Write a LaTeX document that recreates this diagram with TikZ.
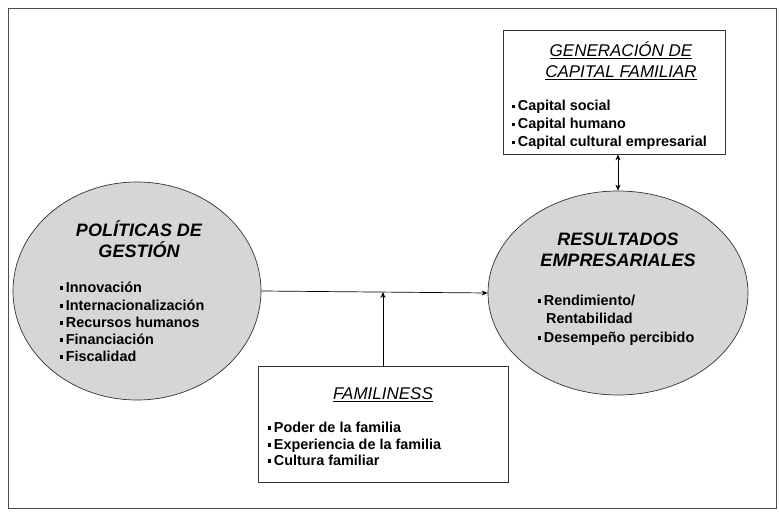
\documentclass[tikz,border=0pt]{standalone}
\usepackage{fontspec}
\setmainfont{Liberation Sans}
\usetikzlibrary{shapes.geometric,arrows.meta}
\newcommand{\bul}{\raisebox{2.5pt}{\rule{3.2pt}{3.2pt}}\hspace{2.5pt}}
\tikzset{
  oval/.style={ellipse,draw=black!80,line width=0.7pt,fill=black!16},
  box/.style={rectangle,draw=black!80,line width=0.7pt,fill=white},
  ttl/.style={font=\fontsize{18}{21}\selectfont\bfseries\itshape,inner sep=0pt,text height=13pt,text depth=0pt,anchor=center},
  bttl/.style={font=\fontsize{17}{20}\selectfont\itshape,inner sep=0pt,text height=12.5pt,text depth=0pt,anchor=center},
  itm/.style={font=\fontsize{14.4}{17}\selectfont\bfseries,inner sep=0pt,text height=10pt,text depth=0pt,anchor=west},
  arr/.style={-{Stealth[length=6pt,width=5pt]},line width=0.7pt},
  dbl/.style={{Stealth[length=6pt,width=5pt]}-{Stealth[length=6pt,width=5pt]},line width=0.7pt}
}
\begin{document}
\begin{tikzpicture}[x=1pt,y=-1pt]
\useasboundingbox (0,0) rectangle (779,513);
\draw[black!70,line width=0.8pt] (8,8) rectangle (776,508);

% shapes
\node[oval,minimum width=248pt,minimum height=218pt] (pol) at (137,291) {};
\node[oval,minimum width=260pt,minimum height=204pt] (res) at (618,293) {};
\node[box,minimum width=222pt,minimum height=124pt] (gen) at (614,92) {};
\node[box,minimum width=250pt,minimum height=116pt] (fam) at (383,424) {};

% connectors
\coordinate (j) at (383,292);
\draw[arr] (pol.east) -- (res.west);
\draw[arr] (fam.north) -- (j);
\draw[dbl] (gen.south -| res.north) -- (res.north);

% left ellipse text
\node[ttl] (p1) at (139,230) {POLÍTICAS DE};
\node[ttl] (p2) at (139,251) {GESTIÓN};
\node[itm] (pa) at (60,287) {\bul Innovación};
\node[itm] (pb) at (60,305) {\bul Internacionalización};
\node[itm] (pc) at (60,322) {\bul Recursos humanos};
\node[itm] (pd) at (60,339) {\bul Financiación};
\node[itm] (pe) at (60,356) {\bul Fiscalidad};

% right ellipse text
\node[ttl] (r1) at (618,239) {RESULTADOS};
\node[ttl] (r2) at (618,260) {EMPRESARIALES};
\node[itm] (ra) at (538,300) {\bul Rendimiento/};
\node[itm] (rb) at (546,318) {Rentabilidad};
\node[itm] (rc) at (538,337) {\bul Desempeño percibido};

% top box text
\node[bttl] (g1) at (621,50) {\underline{GENERACIÓN DE}};
\node[bttl] (g2) at (621,71) {\underline{CAPITAL FAMILIAR}};
\node[itm] (ga) at (512,106) {\bul Capital social};
\node[itm] (gb) at (512,124) {\bul Capital humano};
\node[itm] (gc) at (512,142) {\bul Capital cultural empresarial};

% bottom box text
\node[bttl] (f1) at (383,393) {\underline{FAMILINESS}};
\node[itm] (fa) at (268,427) {\bul Poder de la familia};
\node[itm] (fb) at (268,444) {\bul Experiencia de la familia};
\node[itm] (fc) at (268,460) {\bul Cultura familiar};
\end{tikzpicture}
\end{document}
